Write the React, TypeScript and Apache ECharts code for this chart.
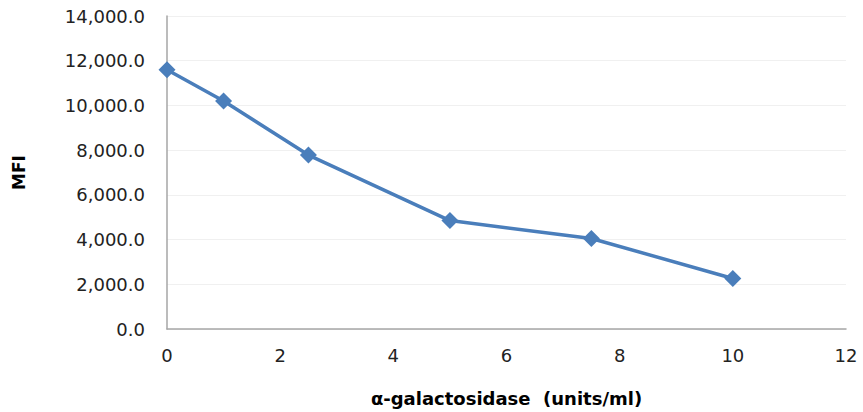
import React, { useEffect, useRef } from "react";
import * as echarts from "echarts";

const xValues = [0, 1, 2.5, 5, 7.5, 10];
const mfiValues = [11600, 10200, 7780, 4850, 4050, 2260];
const xTitle = "α-galactosidase  (units/ml)";
const yTitle = "MFI";

export default function App() {
  const ref = useRef<HTMLDivElement>(null);
  useEffect(() => {
    if (!ref.current) return;
    const chart = echarts.init(ref.current, null, { renderer: "svg" });
    chart.setOption({
      animation: false,
      backgroundColor: "#ffffff",
      grid: { left: 167, right: 17, top: 16, bottom: 81, containLabel: false },
      xAxis: {
        type: "value",
        min: 0,
        max: 12,
        interval: 2,
        name: xTitle,
        nameLocation: "middle",
        nameGap: 60,
        nameTextStyle: { fontFamily: "DejaVu Sans", fontWeight: "bold", fontSize: 18, color: "#000" },
        axisLine: { show: true, lineStyle: { color: "#a6a6a6", width: 1.5 } },
        axisTick: { show: false },
        splitLine: { show: false },
        axisLabel: { fontFamily: "DejaVu Sans", fontSize: 18, color: "#222", margin: 17 },
      },
      yAxis: {
        type: "value",
        min: 0,
        max: 14000,
        interval: 2000,
        name: yTitle,
        nameLocation: "middle",
        nameGap: 140,
        nameRotate: 90,
        nameTextStyle: { fontFamily: "DejaVu Sans", fontWeight: "bold", fontSize: 17, color: "#000" },
        axisLine: { show: true, lineStyle: { color: "#a6a6a6", width: 1.5 } },
        axisTick: { show: false },
        splitLine: { show: true, lineStyle: { color: "#f0f0f0", width: 1 } },
        axisLabel: {
          fontFamily: "DejaVu Sans",
          fontSize: 18,
          color: "#222",
          margin: 22,
          formatter: (v: number) =>
            v.toLocaleString("en-US", { minimumFractionDigits: 1, maximumFractionDigits: 1 }),
        },
      },
      series: [
        {
          type: "line",
          data: xValues.map((x, i) => [x, mfiValues[i]]),
          symbol: "diamond",
          symbolSize: 17,
          lineStyle: { color: "#4a7ebb", width: 3.5 },
          itemStyle: { color: "#4a7ebb" },
        },
      ],
    });
    return () => chart.dispose();
  }, []);
  return <div ref={ref} style={{ width: 863, height: 412, position: "absolute", left: 0, top: 0 }} />;
}
